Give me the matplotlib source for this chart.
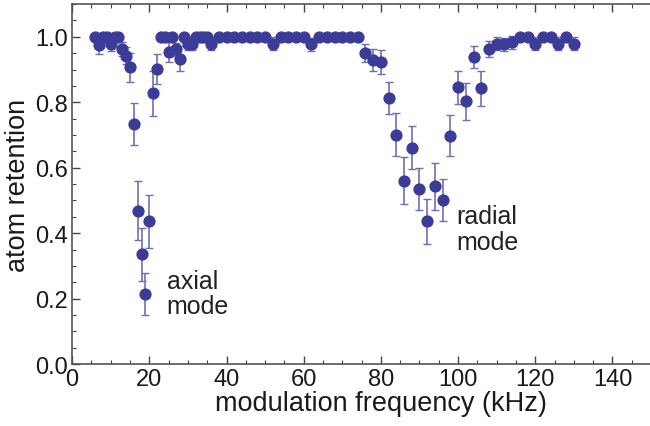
import numpy as np
import matplotlib
matplotlib.use("Agg")
from matplotlib import pyplot as plt
from matplotlib.ticker import MultipleLocator, FormatStrFormatter

# modulation frequency (kHz), atom retention and its error
freq = [6, 7, 8, 9, 10, 11, 12, 13, 14, 15, 16, 17, 18, 19, 20, 21, 22,
        23, 24, 25, 26, 27, 28, 29, 30, 31, 32, 33, 34, 35, 36,
        38, 40, 42, 44, 46, 48, 50, 52, 54, 56, 58, 60, 62, 64, 66, 68,
        70, 72, 74, 76, 78, 80, 82, 84, 86, 88, 90, 92, 94, 96, 98, 100,
        102, 104, 106, 108, 110, 112, 114, 116, 118, 120, 122, 124, 126,
        128, 130]
retention = [1.0, 0.975, 1.0, 1.0, 0.977, 1.0, 1.0, 0.963, 0.943, 0.907,
             0.734, 0.468, 0.335, 0.214, 0.436, 0.827, 0.903,
             1.0, 1.0, 0.953, 1.0, 0.962, 0.933, 1.0, 0.979, 0.979,
             1.0, 1.0, 1.0, 1.0, 0.979,
             1.0, 1.0, 1.0, 1.0, 1.0, 1.0, 1.0, 0.979, 1.0, 1.0, 1.0, 1.0,
             0.978, 1.0, 1.0, 1.0, 1.0, 1.0, 1.0, 0.95, 0.93, 0.923, 0.813,
             0.701, 0.561, 0.661, 0.535, 0.436, 0.543, 0.501, 0.698, 0.846,
             0.803, 0.938, 0.843, 0.962, 0.979, 0.977, 0.984, 1.0, 1.0,
             0.979, 1.0, 1.0, 0.979, 1.0, 0.979]
err = [0.0, 0.027, 0.0, 0.0, 0.02, 0.0, 0.0, 0.02, 0.025, 0.045,
       0.065, 0.09, 0.08, 0.065, 0.08, 0.07, 0.046,
       0.0, 0.0, 0.03, 0.0, 0.02, 0.038, 0.0, 0.02, 0.02,
       0.0, 0.0, 0.0, 0.0, 0.02,
       0.0, 0.0, 0.0, 0.0, 0.0, 0.0, 0.0, 0.02, 0.0, 0.0, 0.0, 0.0,
       0.02, 0.0, 0.0, 0.0, 0.0, 0.0, 0.0, 0.027, 0.033, 0.036, 0.05,
       0.066, 0.072, 0.066, 0.065, 0.069, 0.072, 0.064, 0.063, 0.05,
       0.057, 0.034, 0.053, 0.025, 0.02, 0.02, 0.02, 0.0, 0.0,
       0.02, 0.0, 0.0, 0.02, 0.0, 0.02]
xticks = [0, 20, 40, 60, 80, 100, 120, 140]

plt.rcParams['font.family'] = ['Liberation Sans', 'DejaVu Sans']

fig = plt.figure(figsize=(6.5, 4.27), dpi=100)
# the original frame runs past the right edge of the picture (cropped)
ax = fig.add_axes([0.111, 0.145, 0.950, 0.843])

dot = '#3b3b98'
ax.errorbar(freq, retention, yerr=err, fmt='none', ecolor='#6f6fb8',
            elinewidth=1.2, capsize=3, capthick=1.0, zorder=2)
ax.plot(freq, retention, 'o', color=dot, ms=7.8, mec=dot, zorder=3)

ax.text(24.5, 0.292, 'axial\nmode', fontsize=18, color='#222222',
        va='top', ha='left', linespacing=1.1)
ax.text(99.5, 0.49, 'radial\nmode', fontsize=18, color='#222222',
        va='top', ha='left', linespacing=1.1)

ax.set_xlim(0, 160)
ax.set_ylim(0, 1.1)
ax.set_xticks(xticks)
ax.xaxis.set_minor_locator(MultipleLocator(5))
ax.yaxis.set_major_locator(MultipleLocator(0.2))
ax.yaxis.set_minor_locator(MultipleLocator(0.05))
ax.yaxis.set_major_formatter(FormatStrFormatter('%.1f'))
ax.tick_params(which='both', direction='in', top=True, right=True,
               colors='#444444', labelcolor='#1a1a1a', labelsize=17)
ax.tick_params(which='major', length=6, width=1, pad=3)
ax.tick_params(which='minor', length=3, width=0.8)
for s in ax.spines.values():
    s.set_color('#555555')
    s.set_linewidth(1.2)

ax.set_xlabel('modulation frequency (kHz)', fontsize=19.5, color='#1a1a1a', labelpad=0)
ax.set_ylabel('atom retention', fontsize=19.5, color='#1a1a1a', labelpad=3)

fig.savefig('out.png', dpi=100)
